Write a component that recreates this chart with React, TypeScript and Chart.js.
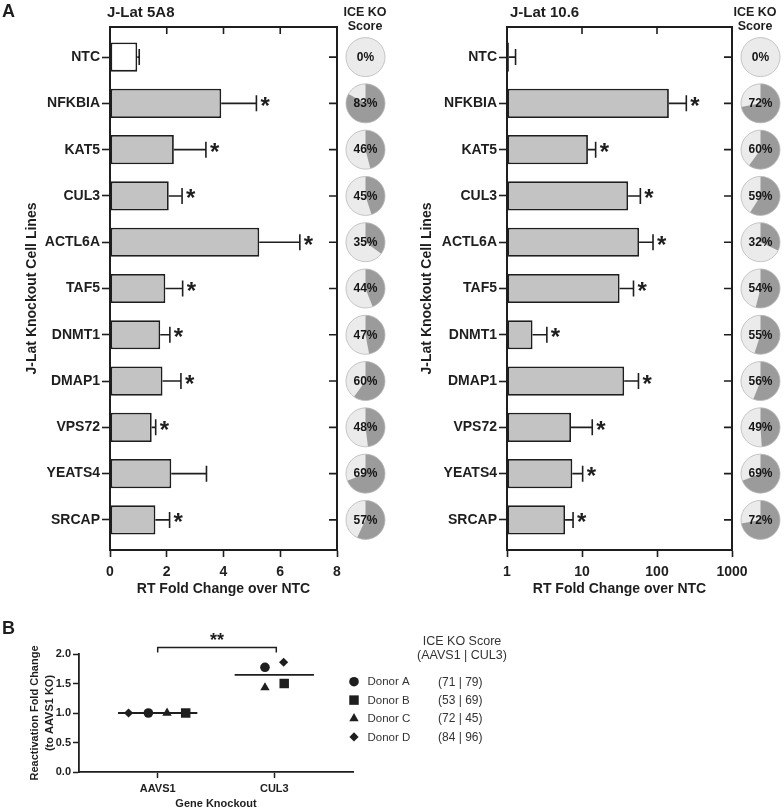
import React, { useEffect, useRef } from 'react';
import { Chart, registerables } from 'chart.js';
import { drawPoint } from 'chart.js/helpers';

Chart.register(...registerables);

const FONT = "'Liberation Sans', Arial, Helvetica, sans-serif";
const INK = '#1e1e1e';
Chart.defaults.font.family = FONT;
Chart.defaults.color = INK;

// ---------- Panel A data ----------
const knockoutLines = ['NTC', 'NFKBIA', 'KAT5', 'CUL3', 'ACTL6A', 'TAF5', 'DNMT1', 'DMAP1', 'VPS72', 'YEATS4', 'SRCAP'];

const fold5A8 = [0.96, 3.92, 2.25, 2.07, 5.26, 1.95, 1.77, 1.85, 1.47, 2.16, 1.6];
const sem5A8 = [0.07, 1.24, 1.13, 0.47, 1.43, 0.61, 0.34, 0.65, 0.14, 1.24, 0.5];
const sig5A8 = [false, true, true, true, true, true, true, true, true, false, true];
const ice5A8 = [0, 83, 46, 45, 35, 44, 47, 60, 48, 69, 57];
const xTicks5A8 = [0, 2, 4, 6, 8];

const fold106 = [1.06, 144, 12.0, 41.2, 57.7, 31.7, 2.19, 36.5, 7.14, 7.43, 5.95];
const sem106 = [0.24, 102, 3.2, 18.8, 30.8, 16.9, 1.21, 20.1, 6.56, 2.77, 1.65];
const sig106 = [false, true, true, true, true, true, true, true, true, true, true];
const ice106 = [0, 72, 60, 59, 32, 54, 55, 56, 49, 69, 72];
const xTicks106 = [1, 10, 100, 1000];

// ---------- Panel B data ----------
const geneKnockouts = ['AAVS1', 'CUL3'];
const donors = ['Donor A', 'Donor B', 'Donor C', 'Donor D'];
const foldAAVS1 = [1.0, 1.0, 1.0, 1.0];
const foldCUL3 = [1.775, 1.5, 1.43, 1.86];
const meanFold = [1.0, 1.645];
const iceAAVS1 = [71, 53, 72, 84];
const iceCUL3 = [79, 69, 45, 96];
const yTicksB = [0, 0.5, 1.0, 1.5, 2.0];
const sigLabelB = '**';

// styling / placement (not data)
const donorMarkers = ['circle', 'rect', 'triangle', 'rectRot'];
const donorRadius = [4.8, 6.7, 5.4, 4.6];
const jitterAAVS1 = [-0.08, 0.24, 0.08, -0.25];
const jitterCUL3 = [-0.08, 0.085, -0.08, 0.08];

function drawCenteredGlyph(ctx: any, text: string, x: number, cy: number) {
  const m = ctx.measureText(text);
  const asc = m.actualBoundingBoxAscent;
  const desc = m.actualBoundingBoxDescent;
  ctx.fillText(text, x, cy - (desc - asc) / 2);
}

const panelDecor = {
  id: 'panelDecor',
  afterDraw(chart: any, _args: any, o: any) {
    const { ctx, chartArea } = chart;
    const x = chart.scales.x;
    const y = chart.scales.y;
    const { left, right, top, bottom } = chartArea;
    ctx.save();
    // frame (top + right) with inward ticks
    ctx.strokeStyle = INK;
    ctx.lineWidth = 2;
    ctx.beginPath();
    ctx.moveTo(left - 1, top);
    ctx.lineTo(right, top);
    ctx.lineTo(right, bottom + 1);
    ctx.stroke();
    ctx.lineWidth = 1.6;
    ctx.beginPath();
    x.ticks.forEach((t: any) => {
      const px = x.getPixelForValue(t.value);
      if (px > left + 2 && px < right - 2) {
        ctx.moveTo(px, top);
        ctx.lineTo(px, top + 7);
      }
    });
    y.ticks.forEach((t: any) => {
      const py = y.getPixelForValue(t.value);
      ctx.moveTo(right, py);
      ctx.lineTo(right - 8, py);
    });
    ctx.stroke();

    // error bars and asterisks
    const meta = chart.getDatasetMeta(0);
    ctx.lineWidth = 1.6;
    ctx.fillStyle = INK;
    ctx.font = `bold 24px ${FONT}`;
    ctx.textAlign = 'left';
    ctx.textBaseline = 'alphabetic';
    meta.data.forEach((bar: any, i: number) => {
      const end = x.getPixelForValue(o.values[i] + o.errors[i]);
      const py = bar.y;
      ctx.beginPath();
      ctx.moveTo(bar.x, py);
      ctx.lineTo(end, py);
      ctx.moveTo(end, py - 8);
      ctx.lineTo(end, py + 8);
      ctx.stroke();
      if (o.sig[i]) drawCenteredGlyph(ctx, '*', end + 4, py - 2);
    });

    // pies
    const cx = right + o.pieOffset;
    const r = o.pieRadius;
    o.scores.forEach((s: number, i: number) => {
      const cy = y.getPixelForValue(i);
      ctx.beginPath();
      ctx.arc(cx, cy, r, 0, Math.PI * 2);
      ctx.fillStyle = '#ebebeb';
      ctx.fill();
      if (s > 0) {
        ctx.beginPath();
        ctx.moveTo(cx, cy);
        ctx.arc(cx, cy, r, -Math.PI / 2, -Math.PI / 2 + (Math.PI * 2 * s) / 100);
        ctx.closePath();
        ctx.fillStyle = '#9b9b9b';
        ctx.fill();
      }
      ctx.beginPath();
      ctx.arc(cx, cy, r, 0, Math.PI * 2);
      ctx.strokeStyle = '#b9b9b9';
      ctx.lineWidth = 0.8;
      ctx.stroke();
      ctx.fillStyle = '#151515';
      ctx.font = `bold 12px ${FONT}`;
      ctx.textAlign = 'center';
      ctx.textBaseline = 'middle';
      ctx.fillText(`${s}%`, cx, cy + 0.5);
    });

    // headers
    ctx.fillStyle = INK;
    ctx.font = `bold 12.5px ${FONT}`;
    ctx.textAlign = 'center';
    ctx.textBaseline = 'middle';
    ctx.fillText('ICE KO', o.headerX, 13);
    ctx.fillText('Score', o.headerX, 27);
    ctx.textAlign = 'left';
    ctx.font = `bold 15px ${FONT}`;
    ctx.fillText(o.title, o.titleX, 12.5);
    if (o.letter) {
      ctx.font = `bold 18px ${FONT}`;
      ctx.fillText(o.letter, 2, 12);
    }
    ctx.restore();
  },
};

function barConfig(p: any): any {
  return {
    type: 'bar',
    data: {
      datasets: [
        {
          data: p.values.map((v: number, i: number) => ({ x: v, y: i })),
          backgroundColor: knockoutLines.map((n) => (n === 'NTC' ? '#ffffff' : '#c3c3c3')),
          borderColor: INK,
          borderWidth: 1.8,
          borderSkipped: false,
          barPercentage: 0.63,
          categoryPercentage: 1,
          base: p.log ? 1 : 0,
        },
      ],
    },
    plugins: [panelDecor],
    options: {
      animation: false,
      responsive: false,
      maintainAspectRatio: false,
      indexAxis: 'y',
      layout: { padding: { left: 0, right: p.rightPad, top: 27, bottom: 0 } },
      plugins: {
        legend: { display: false },
        tooltip: { enabled: false },
        panelDecor: {
          values: p.values,
          errors: p.errors,
          sig: p.sig,
          scores: p.scores,
          pieOffset: 28.5,
          pieRadius: 19.5,
          headerX: p.headerX,
          title: p.title,
          titleX: p.titleX,
          letter: p.letter,
        },
      },
      scales: {
        x: {
          type: p.log ? 'logarithmic' : 'linear',
          position: 'bottom',
          min: p.xTicks[0],
          max: p.xTicks[p.xTicks.length - 1],
          offset: false,
          afterBuildTicks: (s: any) => {
            s.ticks = p.xTicks.map((v: number) => ({ value: v }));
          },
          afterFit: (s: any) => {
            s.height = 50;
          },
          grid: { offset: false, drawOnChartArea: false, tickLength: 7, tickColor: INK, tickWidth: 1.6 },
          border: { color: INK, width: 2 },
          ticks: {
            autoSkip: false,
            maxRotation: 0,
            padding: 7,
            color: INK,
            font: { size: 14, weight: 'bold' },
            callback: (v: any) => String(v),
          },
          title: {
            display: true,
            text: 'RT Fold Change over NTC',
            color: INK,
            font: { size: 14, weight: 'bold' },
            padding: { top: 0, bottom: 2.5 },
          },
        },
        y: {
          type: 'linear',
          reverse: true,
          min: -0.65,
          max: 10.65,
          offset: false,
          afterBuildTicks: (s: any) => {
            s.ticks = knockoutLines.map((_, i) => ({ value: i }));
          },
          afterFit: (s: any) => {
            s.width = p.yWidth;
          },
          grid: { offset: false, drawOnChartArea: false, tickLength: 8, tickColor: INK, tickWidth: 1.6 },
          border: { color: INK, width: 2 },
          ticks: {
            autoSkip: false,
            padding: 2,
            color: INK,
            font: { size: 14, weight: 'bold' },
            callback: (v: any) => knockoutLines[v],
          },
          title: {
            display: true,
            text: 'J-Lat Knockout Cell Lines',
            color: INK,
            font: { size: 14, weight: 'bold' },
            padding: { top: p.yTitlePad, bottom: 0 },
          },
        },
      },
    },
  };
}

const bDecor = {
  id: 'bDecor',
  afterDraw(chart: any, _a: any, o: any) {
    const { ctx } = chart;
    const x = chart.scales.x;
    const y = chart.scales.y;
    ctx.save();
    ctx.fillStyle = INK;
    ctx.font = `bold 18px ${FONT}`;
    ctx.textAlign = 'left';
    ctx.textBaseline = 'middle';
    ctx.fillText('B', 2, 19);

    // significance bracket
    const yb = y.getPixelForValue(2.11);
    const x1 = x.getPixelForValue(0);
    const x2 = x.getPixelForValue(1) + 2;
    ctx.strokeStyle = INK;
    ctx.lineWidth = 1.5;
    ctx.beginPath();
    ctx.moveTo(x1, yb + 5);
    ctx.lineTo(x1, yb);
    ctx.lineTo(x2, yb);
    ctx.lineTo(x2, yb + 5);
    ctx.stroke();
    ctx.font = `bold 18px ${FONT}`;
    ctx.textAlign = 'center';
    ctx.textBaseline = 'alphabetic';
    drawCenteredGlyph(ctx, sigLabelB, (x1 + x2) / 2, yb - 11);

    // legend
    ctx.fillStyle = '#333333';
    ctx.font = `12.5px ${FONT}`;
    ctx.textAlign = 'center';
    ctx.textBaseline = 'middle';
    ctx.fillText('ICE KO Score', 462, 32);
    ctx.fillText('(AAVS1 | CUL3)', 462, 46);
    donors.forEach((d, k) => {
      const ly = 71.7 + k * 18.4;
      ctx.fillStyle = INK;
      drawPoint(ctx, { pointStyle: donorMarkers[k], radius: donorRadius[k], rotation: 0, borderWidth: 0 } as any, 354, ly);
      ctx.fillStyle = '#333333';
      ctx.textAlign = 'left';
      ctx.font = `11.5px ${FONT}`;
      ctx.fillText(d, 367.5, ly + 0.5);
      ctx.font = `12px ${FONT}`;
      ctx.fillText(`(${iceAAVS1[k]} | ${iceCUL3[k]})`, 438, ly + 0.5);
    });
    ctx.restore();
  },
};

function bConfig(): any {
  const donorSets = donors.map((d, k) => ({
    label: d,
    data: [
      { x: 0 + jitterAAVS1[k], y: foldAAVS1[k] },
      { x: 1 + jitterCUL3[k], y: foldCUL3[k] },
    ],
    pointStyle: donorMarkers[k],
    pointRadius: donorRadius[k],
    backgroundColor: INK,
    borderColor: INK,
    borderWidth: 0,
    clip: false,
  }));
  const meanSets = meanFold.map((m, i) => ({
    label: `mean ${geneKnockouts[i]}`,
    data: [
      { x: i - 0.34, y: m },
      { x: i + 0.34, y: m },
    ],
    showLine: true,
    borderColor: INK,
    borderWidth: 1.8,
    pointRadius: 0,
    clip: false,
  }));
  return {
    type: 'scatter',
    data: { datasets: [...meanSets, ...donorSets] },
    plugins: [bDecor],
    options: {
      animation: false,
      responsive: false,
      maintainAspectRatio: false,
      layout: { padding: { left: 0, right: 431, top: 44, bottom: 0 } },
      plugins: { legend: { display: false }, tooltip: { enabled: false } },
      scales: {
        x: {
          type: 'linear',
          min: -0.675,
          max: 1.675,
          afterBuildTicks: (s: any) => {
            s.ticks = geneKnockouts.map((_, i) => ({ value: i }));
          },
          afterFit: (s: any) => {
            s.height = 36;
          },
          grid: { drawOnChartArea: false, tickLength: 6, tickColor: INK, tickWidth: 1.5 },
          border: { color: INK, width: 1.8 },
          ticks: {
            autoSkip: false,
            maxRotation: 0,
            padding: 4,
            color: INK,
            font: { size: 11, weight: 'bold' },
            callback: (v: any) => geneKnockouts[v],
          },
          title: {
            display: true,
            text: 'Gene Knockout',
            color: INK,
            font: { size: 11, weight: 'bold', lineHeight: 1 },
            padding: { top: 0, bottom: -1 },
          },
        },
        y: {
          type: 'linear',
          min: 0,
          max: 2,
          afterBuildTicks: (s: any) => {
            s.ticks = yTicksB.map((v) => ({ value: v }));
          },
          afterFit: (s: any) => {
            s.width = 79;
          },
          grid: { drawOnChartArea: false, tickLength: 6, tickColor: INK, tickWidth: 1.5 },
          border: { color: INK, width: 1.8 },
          ticks: {
            autoSkip: false,
            padding: 2,
            color: INK,
            font: { size: 11, weight: 'bold' },
            callback: (v: any) => Number(v).toFixed(1),
          },
          title: {
            display: true,
            text: ['Reactivation Fold Change', '(to AAVS1 KO)'],
            color: INK,
            font: { size: 11, weight: 'bold', lineHeight: '15px' },
            padding: { top: 27, bottom: 0 },
          },
        },
      },
    },
  };
}

function ChartCanvas(props: { make: () => any; left: number; top: number; width: number; height: number }) {
  const ref = useRef<HTMLCanvasElement>(null);
  useEffect(() => {
    const chart = new Chart(ref.current as HTMLCanvasElement, props.make());
    return () => chart.destroy();
  }, []);
  return (
    <canvas
      ref={ref}
      width={props.width}
      height={props.height}
      style={{ position: 'absolute', left: props.left, top: props.top, width: props.width, height: props.height }}
    />
  );
}

export default function App() {
  return (
    <div style={{ position: 'absolute', left: 0, top: 0, width: 784, height: 808, background: '#ffffff', overflow: 'hidden' }}>
      <ChartCanvas
        left={0}
        top={0}
        width={392}
        height={600}
        make={() =>
          barConfig({
            values: fold5A8,
            errors: sem5A8,
            sig: sig5A8,
            scores: ice5A8,
            xTicks: xTicks5A8,
            log: false,
            rightPad: 55,
            yWidth: 110,
            yTitlePad: 23.6,
            headerX: 365,
            title: 'J-Lat 5A8',
            titleX: 107,
            letter: 'A',
          })
        }
      />
      <ChartCanvas
        left={392}
        top={0}
        width={392}
        height={600}
        make={() =>
          barConfig({
            values: fold106,
            errors: sem106,
            sig: sig106,
            scores: ice106,
            xTicks: xTicks106,
            log: true,
            rightPad: 52,
            yWidth: 115,
            yTitlePad: 26.6,
            headerX: 363,
            title: 'J-Lat 10.6',
            titleX: 118,
            letter: '',
          })
        }
      />
      <ChartCanvas left={0} top={610} width={784} height={198} make={bConfig} />
    </div>
  );
}
